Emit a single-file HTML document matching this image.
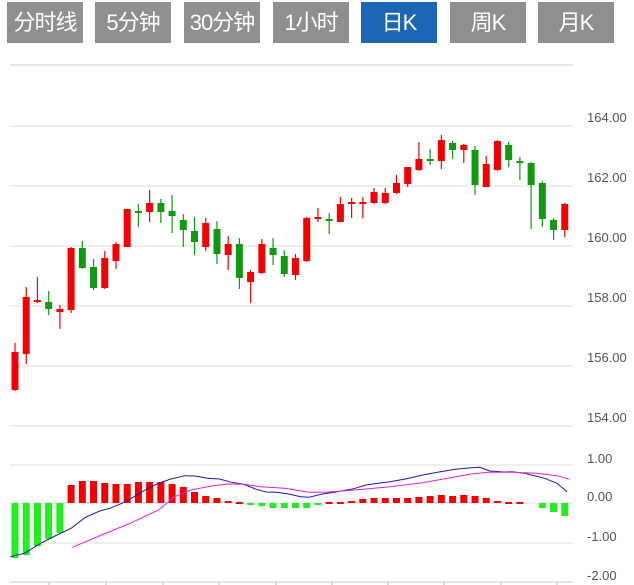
<!DOCTYPE html>
<html><head><meta charset="utf-8"><style>
body{margin:0;width:634px;height:585px;background:#fff;overflow:hidden;position:relative;font-family:"Liberation Sans","Noto Sans CJK SC",sans-serif}
.b{position:absolute;top:2px;height:41px;width:76px;background:#8f8f8f;color:#fff;font-size:22px;line-height:41px;text-align:center;letter-spacing:-1px}
.b.on{background:#1c66b5}
svg{position:absolute;left:0;top:0}
</style></head><body>
<div class="b" style="left:7px">分时线</div>
<div class="b" style="left:95px">5分钟</div>
<div class="b" style="left:184px">30分钟</div>
<div class="b" style="left:273px">1小时</div>
<div class="b on" style="left:361px">日K</div>
<div class="b" style="left:450px">周K</div>
<div class="b" style="left:538px">月K</div>
<svg id="s" width="634" height="585" xmlns="http://www.w3.org/2000/svg" font-family="Liberation Sans, sans-serif" font-size="13" fill="#555"></svg>
<script>
var s=document.getElementById('s'),h='';
function L(x1,y1,x2,y2,c,w){h+='<line x1="'+x1+'" y1="'+y1+'" x2="'+x2+'" y2="'+y2+'" stroke="'+c+'" stroke-width="'+(w||1)+'"/>';}
L(10,65,573,65,'#e6e6e6',2);
[126,186,246,306,366,426].forEach(function(y,i){L(10,y,573,y,'#dcdcdc',1);h+='<text x="587" y="'+(y-4)+'">'+(164-2*i).toFixed(2)+'</text>';});
[[465,'1.00'],[503,'0.00'],[543,'-1.00']].forEach(function(a){L(10,a[0],573,a[0],'#dcdcdc',1);h+='<text x="587" y="'+(a[0]-2)+'">'+a[1]+'</text>';});
L(10,582,573,582,'#cccccc',1);h+='<text x="587" y="580">-2.00</text>';
[49,106,163,219,276,332,388,444,501,557].forEach(function(x){L(x,582,x,587,'#bbb',1);});
var c=[[352,390,343,391,1],[354,297,287,364,1],[300,300,277,303,1],[302,309,291,315,0],[312,309,305,329,1],[310,248,247,313,1],[248,268,241,269,0],[267,288,259,290,0],[288,258,251,289,1],[261,244,242,269,1],[247,209,209,247,1],[211,211,204,227,0],[212,203,190,222,1],[203,212,199,223,0],[211,216,195,233,0],[220,230,214,247,0],[231,242,217,255,0],[247,223,218,251,1],[229,254,221,264,0],[255,244,236,270,1],[244,278,238,289,0],[282,272,270,303,1],[273,244,239,274,1],[248,255,238,265,0],[256,274,250,277,0],[275,258,254,280,1],[261,218,217,262,1],[217,217,208,222,1],[219,219,213,234,0],[222,204,197,222,1],[202,202,198,218,1],[202,202,197,218,1],[203,192,188,204,1],[203,193,188,204,1],[193,183,175,194,1],[184,167,167,187,1],[170,159,142,171,1],[159,159,149,165,0],[161,140,135,169,1],[143,150,141,159,0],[150,145,144,163,1],[150,185,146,195,0],[187,164,156,187,1],[170,141,140,171,1],[145,160,142,167,0],[161,163,157,180,0],[163,185,162,229,0],[183,219,181,227,0],[220,230,218,240,0],[230,204,203,237,1]];
var m=[-55,-52,-43,-36,-30,18,22,22,20,19,19,21,21,21,19,16,11,7,5,2,1,-1,-3,-5,-5,-5,-5,-1,1,1,2,4,5,5,5,5,6,7,8,7,8,7,5,2,1,1,0,-5,-9,-13];
c.forEach(function(d,i){var x=15+11.22*i,col=d[4]?'#f30000':'#129912';
L(x,d[2],x,d[3],col,1.2);var t=Math.min(d[0],d[1]),hh=Math.max(2,Math.abs(d[0]-d[1]));
h+='<rect x="'+(x-3.5)+'" y="'+t+'" width="7" height="'+hh+'" fill="'+col+'"/>';
var v=m[i];if(v!=0){var mc=v>0?'#f30000':'#22ee22';h+='<rect x="'+(x-3.5)+'" y="'+(v>0?503-v:503)+'" width="7" height="'+Math.max(2,Math.abs(v))+'" fill="'+mc+'"/>';}});
function P(pts,col){var a=pts.map(function(p){return (p[0]/2.46).toFixed(1)+','+(440+p[1]/3).toFixed(1)}).join(' ');h+='<polyline points="'+a+'" fill="none" stroke="'+col+'" stroke-width="1"/>';}
P([[25,350],[60,340],[100,310],[140,285],[175,265],[210,232],[245,213],[270,205],[300,190],[330,170],[360,148],[390,130],[420,117],[455,107],[480,108],[510,115],[540,117],[570,127],[600,133],[630,148],[655,156],[680,157],[710,162],[740,170],[760,172],[790,163],[830,155],[870,146],[900,135],[930,130],[960,125],[1000,116],[1040,105],[1080,96],[1120,88],[1160,83],[1180,82],[1205,93],[1240,96],[1260,95],[1290,100],[1340,115],[1370,130],[1395,155]],'#1a1aa8');
P([[178,322],[250,285],[320,250],[390,210],[430,170],[470,150],[520,138],[560,132],[600,133],[640,140],[700,145],[760,157],[800,157],[850,152],[900,147],[960,140],[1040,128],[1100,115],[1160,102],[1200,97],[1260,97],[1320,100],[1370,107],[1400,118]],'#e020e0');
s.innerHTML=h;
</script>
</body></html>
